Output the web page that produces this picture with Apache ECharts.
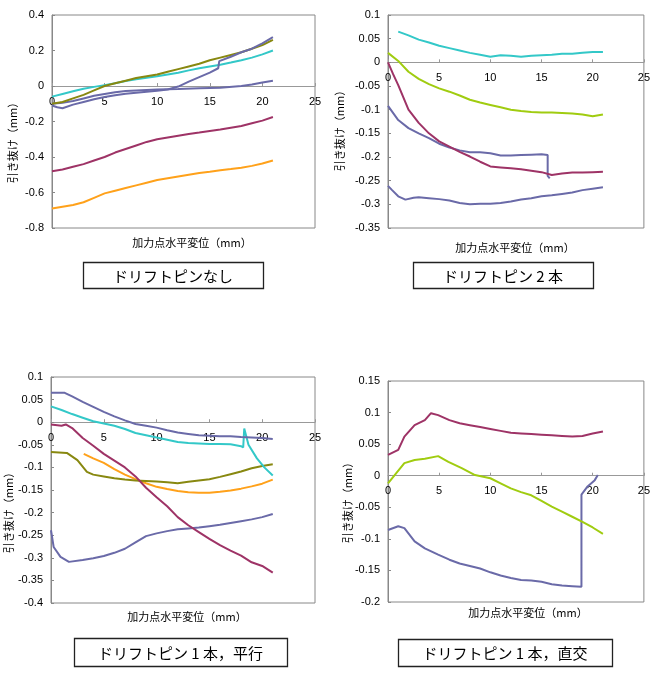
<!DOCTYPE html>
<html>
<head>
<meta charset="utf-8">
<script src="https://cdn.jsdelivr.net/npm/echarts@6/dist/echarts.min.js"></script>
<style>
  html, body { margin: 0; padding: 0; background: #fff; }
  #main { width: 653px; height: 684px; }
</style>
</head>
<body>
<div id="main"></div>
<script>
// colours of the Excel style palette
var PURPLE = '#6a6aa8', MAROON = '#9e3366', CYAN = '#33c8c8',
    OLIVE = '#888810', ORANGE = '#ffa11a', GREEN = '#a0cc10'

var xTicks = [0, 5, 10, 15, 20, 25]
var captions = ['ドリフトピンなし', 'ドリフトピン 2 本', 'ドリフトピン 1 本，平行', 'ドリフトピン 1 本，直交']
var xTitle = '加力点水平変位（mm）'
var yTitle = '引き抜け（mm）'

// y ranges of the four panels: [min, max, interval]
var yRanges = [[-0.8, 0.4, 0.2], [-0.35, 0.1, 0.05], [-0.4, 0.1, 0.05], [-0.2, 0.15, 0.05]]

// panel 1 : no drift pin
var p1Olive = [[0,-0.1],[1,-0.09],[2,-0.07],[3,-0.05],[4,-0.025],[5,0],[6,0.015],[7,0.03],[8,0.045],[9,0.055],[10,0.065],[11,0.08],[12,0.095],[13,0.11],[14,0.125],[15,0.145],[16,0.16],[17,0.175],[18,0.19],[19,0.21],[20,0.23],[21,0.26]]
var p1Cyan = [[0,-0.06],[1,-0.045],[2,-0.03],[3,-0.015],[4,-0.005],[5,0.005],[6,0.015],[7,0.028],[8,0.038],[9,0.046],[10,0.055],[11,0.065],[12,0.075],[13,0.088],[14,0.1],[15,0.11],[16,0.12],[17,0.132],[18,0.145],[19,0.16],[20,0.178],[21,0.2]]
var p1PurpleA = [[0,-0.11],[0.5,-0.12],[1,-0.125],[2,-0.105],[3,-0.09],[4,-0.075],[5,-0.062],[6,-0.052],[7,-0.044],[8,-0.038],[9,-0.032],[10,-0.027],[11,-0.02],[12,-0.003],[13,0.025],[14,0.05],[15,0.075],[15.8,0.1],[15.9,0.14],[17,0.165],[18,0.19],[19,0.21],[20,0.24],[21,0.275]]
var p1PurpleB = [[0,-0.1],[1,-0.095],[2,-0.085],[3,-0.07],[4,-0.055],[5,-0.045],[6,-0.035],[7,-0.028],[8,-0.025],[10,-0.02],[12,-0.017],[14,-0.013],[16,-0.01],[18,0],[19,0.008],[20,0.02],[21,0.03]]
var p1Maroon = [[0,-0.48],[1,-0.47],[2,-0.455],[3,-0.44],[4,-0.42],[5,-0.4],[6,-0.375],[7,-0.355],[8,-0.335],[9,-0.315],[10,-0.3],[11,-0.29],[12,-0.28],[13,-0.27],[14,-0.262],[15,-0.253],[16,-0.245],[17,-0.235],[18,-0.225],[19,-0.21],[20,-0.195],[21,-0.175]]
var p1Orange = [[0,-0.69],[1,-0.68],[2,-0.67],[3,-0.655],[4,-0.63],[5,-0.605],[6,-0.59],[7,-0.575],[8,-0.56],[9,-0.545],[10,-0.53],[11,-0.52],[12,-0.51],[13,-0.5],[14,-0.49],[15,-0.483],[16,-0.475],[17,-0.468],[18,-0.46],[19,-0.45],[20,-0.437],[21,-0.42]]

// panel 2 : two drift pins
var p2Cyan = [[1,0.065],[2,0.057],[3,0.048],[4,0.042],[5,0.035],[6,0.03],[7,0.025],[8,0.02],[9,0.016],[10,0.012],[11,0.015],[12,0.014],[13,0.012],[14,0.014],[15,0.015],[16,0.016],[17,0.018],[18,0.018],[19,0.02],[20,0.022],[21,0.022]]
var p2Green = [[0,0.02],[1,0.003],[2,-0.02],[3,-0.035],[4,-0.046],[5,-0.055],[6,-0.062],[7,-0.07],[8,-0.079],[9,-0.085],[10,-0.09],[11,-0.095],[12,-0.1],[13,-0.103],[14,-0.105],[15,-0.106],[16,-0.106],[17,-0.107],[18,-0.108],[19,-0.11],[20,-0.114],[21,-0.11]]
var p2Maroon = [[0,0],[0.5,-0.025],[1,-0.048],[2,-0.1],[3,-0.128],[4,-0.15],[5,-0.167],[6,-0.178],[7,-0.189],[8,-0.199],[9,-0.21],[10,-0.22],[11,-0.222],[12,-0.224],[13,-0.226],[14,-0.229],[15,-0.232],[16,-0.238],[17,-0.235],[18,-0.233],[19,-0.233],[20,-0.232],[21,-0.231]]
var p2PurpleA = [[0,-0.092],[1,-0.122],[2,-0.139],[3,-0.15],[4,-0.16],[5,-0.172],[6,-0.18],[7,-0.186],[8,-0.19],[9,-0.19],[10,-0.192],[11,-0.197],[12,-0.197],[13,-0.196],[14,-0.195],[15,-0.194],[15.6,-0.196],[15.6,-0.24],[15.8,-0.245]]
var p2PurpleB = [[0,-0.261],[0.4,-0.27],[1,-0.283],[1.7,-0.29],[2.5,-0.286],[3,-0.285],[4,-0.287],[5,-0.289],[6,-0.292],[7,-0.297],[8,-0.3],[9,-0.299],[10,-0.299],[11,-0.297],[12,-0.294],[13,-0.29],[14,-0.287],[15,-0.283],[16,-0.281],[17,-0.278],[18,-0.275],[19,-0.27],[20,-0.267],[21,-0.264]]

// panel 3 : one drift pin, parallel
var p3PurpleA = [[0,0.065],[1.3,0.065],[2,0.057],[3,0.045],[4,0.034],[5,0.023],[6,0.013],[7,0.004],[8,-0.004],[9,-0.008],[10,-0.012],[11,-0.018],[12,-0.023],[13,-0.026],[14,-0.029],[15,-0.03],[16,-0.031],[17,-0.031],[18,-0.033],[19,-0.034],[20,-0.035],[21,-0.037]]
var p3Cyan = [[0,0.035],[1,0.027],[2,0.018],[3,0.01],[4,0.002],[5,-0.003],[6,-0.008],[7,-0.015],[8,-0.024],[9,-0.029],[10,-0.034],[11,-0.039],[12,-0.044],[13,-0.046],[14,-0.047],[15,-0.048],[16,-0.048],[17,-0.049],[18,-0.053],[18.2,-0.056],[18.3,-0.014],[18.7,-0.05],[19.5,-0.08],[20.2,-0.1],[21,-0.118]]
var p3Maroon = [[0,-0.005],[1,-0.008],[1.4,-0.005],[2,-0.013],[3,-0.035],[4,-0.052],[5,-0.07],[6,-0.085],[7,-0.1],[8,-0.12],[9,-0.145],[10,-0.166],[11,-0.186],[12,-0.21],[13,-0.228],[14,-0.243],[15,-0.258],[16,-0.272],[17,-0.284],[18,-0.295],[19,-0.31],[20,-0.318],[21,-0.333]]
var p3Olive = [[0,-0.066],[1.5,-0.068],[2.5,-0.084],[3.4,-0.11],[4,-0.116],[5,-0.12],[6,-0.124],[7,-0.127],[8,-0.129],[9,-0.13],[10,-0.131],[11,-0.133],[12,-0.135],[13,-0.132],[14,-0.129],[15,-0.126],[16,-0.121],[17,-0.115],[18,-0.109],[19,-0.102],[20,-0.097],[21,-0.093]]
var p3Orange = [[3.1,-0.07],[4,-0.08],[5,-0.09],[6,-0.104],[7,-0.116],[8,-0.126],[9,-0.135],[10,-0.143],[11,-0.148],[12,-0.152],[13,-0.155],[14,-0.156],[15,-0.156],[16,-0.154],[17,-0.151],[18,-0.147],[19,-0.142],[20,-0.136],[21,-0.127]]
var p3PurpleB = [[0,-0.239],[0.25,-0.276],[0.9,-0.298],[1.7,-0.309],[3,-0.305],[4,-0.301],[5,-0.296],[6,-0.289],[7,-0.28],[8,-0.266],[9,-0.252],[10,-0.246],[11,-0.241],[12,-0.237],[13,-0.235],[14,-0.233],[15,-0.23],[16,-0.227],[17,-0.223],[18,-0.219],[19,-0.215],[20,-0.21],[21,-0.203]]

// panel 4 : one drift pin, perpendicular
var p4Maroon = [[0,0.033],[1,0.041],[1.6,0.062],[2.6,0.08],[3.6,0.088],[4.2,0.099],[4.9,0.096],[6,0.088],[7,0.083],[8,0.08],[9,0.077],[10,0.074],[11,0.071],[12,0.068],[13,0.067],[14,0.066],[15,0.065],[16,0.064],[17,0.063],[18,0.062],[19,0.063],[20,0.067],[21,0.07]]
var p4Green = [[0,-0.012],[0.65,0.001],[1.6,0.02],[2.6,0.025],[3.6,0.027],[4.9,0.031],[5.9,0.022],[7.2,0.012],[8.5,0.001],[10,-0.004],[11,-0.012],[12,-0.02],[13,-0.026],[14,-0.031],[15,-0.04],[16,-0.049],[17,-0.057],[18,-0.065],[19,-0.073],[20,-0.082],[21,-0.092]]
var p4Purple = [[0,-0.086],[1,-0.08],[1.6,-0.083],[2.6,-0.104],[3.6,-0.115],[4.9,-0.125],[6,-0.133],[7,-0.139],[8,-0.143],[9,-0.147],[10,-0.153],[11,-0.158],[12,-0.162],[13,-0.165],[14,-0.166],[15,-0.168],[16,-0.172],[17,-0.174],[18,-0.175],[18.9,-0.176],[18.9,-0.03],[19.5,-0.017],[20.2,-0.007],[20.5,0.001]]

var panels = [
  [[p1Orange, ORANGE], [p1Maroon, MAROON], [p1PurpleB, PURPLE], [p1Cyan, CYAN], [p1Olive, OLIVE], [p1PurpleA, PURPLE]],
  [[p2PurpleB, PURPLE], [p2PurpleA, PURPLE], [p2Maroon, MAROON], [p2Green, GREEN], [p2Cyan, CYAN]],
  [[p3PurpleB, PURPLE], [p3Orange, ORANGE], [p3Olive, OLIVE], [p3Maroon, MAROON], [p3Cyan, CYAN], [p3PurpleA, PURPLE]],
  [[p4Purple, PURPLE], [p4Green, GREEN], [p4Maroon, MAROON]]
]

// layout of each panel
var grids = [
  { left: 52, top: 15, width: 263, height: 213 },
  { left: 388, top: 15, width: 256, height: 213 },
  { left: 51, top: 377, width: 264, height: 226 },
  { left: 388, top: 381, width: 256, height: 221 }
]
var xTitlePos = [[192, 243], [515, 248], [187, 617], [528, 613]]
var yTitlePos = [[13, 140], [340, 128], [9, 510], [348, 500]]
var boxes = [[83, 262, 180, 26], [413, 262, 180, 26], [74, 638, 213, 28], [398, 639, 214, 27]]

var labelFont = { color: '#000', fontSize: 11, fontFamily: 'Liberation Sans, Arial, sans-serif' }
var jpFont = 'Noto Sans CJK JP'

var xAxes = [], yAxes = [], series = [], graphics = []

grids.forEach(function (g, i) {
  g.show = true
  g.borderColor = '#888'
  g.borderWidth = 1
  g.containLabel = false

  var yr = yRanges[i]
  // lift the x axis from the bottom edge up to the y = 0 line
  var zeroOffset = -g.height * (0 - yr[0]) / (yr[1] - yr[0])

  xAxes.push({
    type: 'value', gridIndex: i, position: 'bottom', offset: zeroOffset,
    min: xTicks[0], max: xTicks[xTicks.length - 1], interval: 5,
    axisLine: { onZero: false, lineStyle: { color: '#999' } },
    axisTick: { show: true, inside: true, length: 3, lineStyle: { color: '#999' } },
    axisLabel: Object.assign({ margin: 10 }, labelFont),
    splitLine: { show: false }
  })
  yAxes.push({
    type: 'value', gridIndex: i, position: 'left', min: yr[0], max: yr[1], interval: yr[2],
    axisLine: { show: true, onZero: false, lineStyle: { color: '#888' } },
    axisTick: { show: true, inside: true, length: 3, lineStyle: { color: '#888' } },
    axisLabel: Object.assign({ margin: 8 }, labelFont),
    splitLine: { show: false }
  })

  panels[i].forEach(function (s) {
    series.push({
      type: 'line', xAxisIndex: i, yAxisIndex: i, data: s[0],
      showSymbol: false, symbol: 'none', animation: false,
      lineStyle: { color: s[1], width: 2 }, itemStyle: { color: s[1] }
    })
  })

  graphics.push({
    type: 'text', x: xTitlePos[i][0], y: xTitlePos[i][1],
    style: { text: xTitle, fill: '#000', font: '11px ' + jpFont, textAlign: 'center', textVerticalAlign: 'middle' }
  })
  graphics.push({
    type: 'text', x: yTitlePos[i][0], y: yTitlePos[i][1], rotation: Math.PI / 2,
    style: { text: yTitle, fill: '#000', font: '11px ' + jpFont, textAlign: 'center', textVerticalAlign: 'middle' }
  })
  var b = boxes[i]
  graphics.push({
    type: 'rect', shape: { x: b[0] + 0.5, y: b[1] + 0.5, width: b[2], height: b[3] },
    style: { fill: '#fff', stroke: '#222', lineWidth: 1.3 }
  })
  graphics.push({
    type: 'text', x: b[0] + b[2] / 2, y: b[1] + b[3] / 2 + 1,
    style: { text: captions[i], fill: '#000', font: '15px ' + jpFont, textAlign: 'center', textVerticalAlign: 'middle' }
  })
})

var chart = echarts.init(document.getElementById('main'))
chart.setOption({
  animation: false,
  grid: grids,
  xAxis: xAxes,
  yAxis: yAxes,
  series: series,
  graphic: graphics
})
</script>
</body>
</html>
